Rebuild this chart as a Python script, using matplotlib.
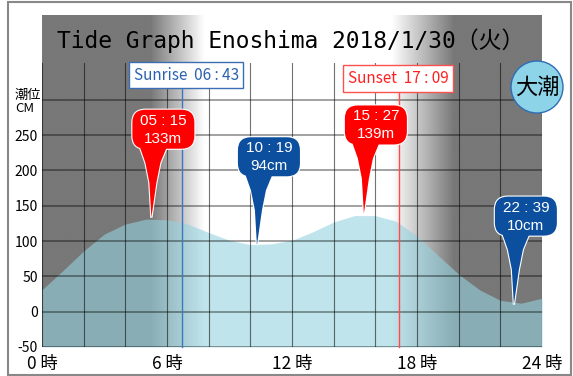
import numpy as np
import matplotlib.pyplot as plt
import matplotlib.patches as mpatches
import matplotlib.transforms as mtransforms

# tide level (cm)
hours = [0, 1, 2, 3, 4, 5, 6, 7, 8, 9, 10, 11, 12,
         13, 14, 15, 16, 17, 18, 19, 20, 21, 22, 23, 24]
level = [31, 58, 86, 110, 124, 131, 130, 124, 112, 101, 95, 96, 101,
         113, 127, 136, 136, 128, 107, 80, 53, 31, 16, 12, 19]

# high / low water
peak_hour = [5 + 15/60, 10 + 19/60, 15 + 27/60, 22 + 39/60]
peak_level = [133, 94, 139, 10]
peak_time = ['05 : 15', '10 : 19', '15 : 27', '22 : 39']
peak_text = ['133m', '94cm', '139m', '10cm']
peak_high = [True, False, True, False]

sunrise = 6 + 43/60
sunset = 17 + 9/60
sunrise_text = 'Sunrise  06 : 43'
sunset_text = 'Sunset  17 : 09'

tick_hours = [0, 6, 12, 18, 24]
tick_labels = ['0 時', '6 時', '12 時', '18 時', '24 時']
ytick_vals = [-50, 0, 50, 100, 150, 200, 250]

title = 'Tide Graph Enoshima 2018/1/30（火）'
tide_name = '大潮'

narrow = ['Liberation Sans Narrow', 'Noto Sans CJK JP']
W, H = 573, 376

fig = plt.figure(figsize=(W / 100, H / 100), dpi=100)
fig.patch.set_facecolor('white')
ax = fig.add_axes([42 / W, 29 / H, 500 / W, 284 / H])

# day / night background, header included
xs = np.linspace(0, 24, 600)
shade = np.interp(xs, [0, 5.2, 7.8, 16.8, 19.8, 24], [0, 0, 1, 1, 0, 0])
g = 0.47
bg = g + (1 - g) * shade
ax.imshow(np.tile(bg, (2, 1)), cmap='gray', vmin=0, vmax=1, aspect='auto',
          extent=(0, 24, -50, 419), interpolation='bilinear', zorder=0,
          clip_on=False)

ax.fill_between(hours, level, -50, color='#96d2df', alpha=0.6, lw=0, zorder=1)

ax.set_xlim(0, 24)
ax.set_ylim(-50, 352)

# grid
ax.set_xticks(tick_hours)
ax.set_xticklabels(tick_labels, family=narrow, fontsize=12.5)
ax.set_xticks(np.arange(0, 25, 2), minor=True)
ax.set_yticks(ytick_vals)
ax.set_yticklabels([str(v) for v in ytick_vals], family=narrow, fontsize=10)
ax.set_yticks([300], minor=True)
ax.tick_params(which='both', length=0)
ax.tick_params(axis='x', pad=6)
ax.tick_params(axis='y', pad=3)
ax.grid(axis='x', which='both', color='black', alpha=0.55, lw=0.8)
ax.grid(axis='y', which='both', color='black', alpha=0.4, lw=1.3)
ax.set_axisbelow(False)
for s in ax.spines.values():
    s.set_visible(False)

# sunrise / sunset
ax.plot([sunrise, sunrise], [-50, 318], color='#3b78c2', lw=1, zorder=3, clip_on=False)
ax.plot([sunset, sunset], [-50, 313], color='#ff4a4a', lw=1, zorder=3, clip_on=False)
ax.text(sunrise + 0.2, 335, sunrise_text, ha='center', va='center', color='#2a62b0',
        fontsize=11, family=narrow, zorder=4,
        bbox=dict(boxstyle='square,pad=0.3', fc='white', ec='#3b6fb5', lw=1))
ax.text(sunset - 0.05, 330, sunset_text, ha='center', va='center', color='#ff2020',
        fontsize=11, family=narrow, zorder=4,
        bbox=dict(boxstyle='square,pad=0.3', fc='white', ec='#ff5050', lw=1))


def px_trans(x, y):
    # pixel offsets around a data point
    return (mtransforms.Affine2D().scale(0.01) + fig.dpi_scale_trans
            + mtransforms.ScaledTranslation(x, y, ax.transData))


tail = [(0, 0), (-2, 35), (-6, 55), (-12, 72), (16, 72), (9, 55), (5, 35)]
for h, v, t, lab, hi in zip(peak_hour, peak_level, peak_time, peak_text, peak_high):
    c = '#ff0000' if hi else '#0b4f9e'
    tr = px_trans(h, v)
    for lw, ec, z in [(1.6, 'white', 5), (0, c, 6)]:
        ax.add_patch(mpatches.FancyBboxPatch((-19, 69), 62, 39,
                     boxstyle='round,pad=0,rounding_size=13', transform=tr,
                     fc=c, ec=ec, lw=lw, zorder=z, clip_on=False))
        ax.add_patch(mpatches.Polygon(tail, closed=True, transform=tr,
                     fc=c, ec=ec, lw=lw, zorder=z, clip_on=False))
    ax.text(12, 97, t, transform=tr, ha='center', va='center', color='white',
            fontsize=11, family='Liberation Sans', zorder=7)
    ax.text(12, 79, lab, transform=tr, ha='center', va='center', color='white',
            fontsize=11, family='Liberation Sans', zorder=7)

# tide name badge
tr = px_trans(23.76, 318)
ax.add_patch(mpatches.Circle((0, 0), 26, transform=tr, fc='#8dd4e8', ec='#2f6db5',
                             lw=1, zorder=8, clip_on=False))
ax.text(0, 0, tide_name, transform=tr, ha='center', va='center', fontsize=16,
        family='Noto Sans CJK JP', zorder=9)

fig.text(291 / W, 1 - 41 / H, title, ha='center', va='center', fontsize=16.5,
         family=['DejaVu Sans Mono', 'Noto Sans CJK JP'])
fig.text(15 / W, 1 - 89 / H, '潮位\nCM', ha='left', va='top', fontsize=9.5,
         family=['Noto Sans CJK JP'], linespacing=0.95)

fig.patches.append(mpatches.Rectangle((8 / W, 1 / H), 563 / W, 373 / H, fill=False,
                                      ec='#888888', lw=1.5, transform=fig.transFigure))

plt.savefig('out.png', dpi=100)
